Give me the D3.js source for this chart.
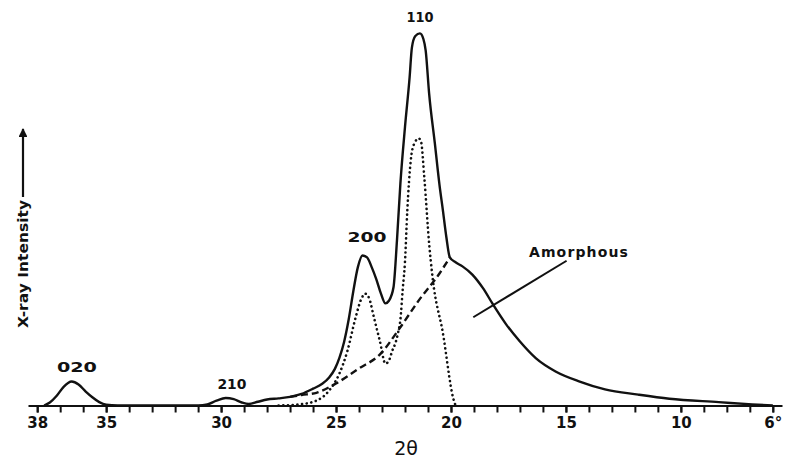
<!DOCTYPE html>
<html>
<head>
<meta charset="utf-8">
<script src="https://cdn.jsdelivr.net/npm/d3@7.9.0/dist/d3.min.js"></script>
<style>
  body { margin: 0; background: #fff; }
  svg { display: block; font-family: "DejaVu Sans", sans-serif; font-weight: bold; }
  .axis path, .axis line { stroke: #111; stroke-width: 2; }
</style>
</head>
<body>
<div id="chart"></div>
<script>
// total measured intensity (solid)
const totalTheta = [37.7, 37.45, 37.15, 36.85, 36.5, 36.2, 35.9, 35.6, 35.3, 35.0, 34.5, 31.0,
  30.6, 30.2, 29.8, 29.45, 29.1, 28.8, 28.4, 28.0, 27.5, 27.0, 26.5, 26.0, 25.6, 25.3, 25.05,
  24.85, 24.65, 24.45, 24.25, 24.05, 23.85, 23.65, 23.45, 23.25, 23.05, 22.85, 22.7, 22.5,
  22.35, 22.2, 22.0, 21.8, 21.7, 21.55, 21.35, 21.2, 21.1, 20.95, 20.7, 20.5, 20.35, 20.2,
  20.05, 19.8, 19.5, 19.07, 18.6, 18.2, 17.6, 17.0, 16.3, 15.45, 14.4, 13.3, 11.85, 10.5,
  8.35, 6.9, 6.0];
const totalI = [0, 0.8, 2.6, 5.0, 6.4, 5.6, 3.8, 2.2, 0.9, 0.2, 0, 0,
  0.3, 1.3, 2.0, 1.7, 0.8, 0.4, 1.0, 1.6, 1.9, 2.3, 3.1, 4.5, 5.8, 7.5, 9.8,
  12.8, 17.0, 23.0, 30.5, 37.0, 40.1, 39.6, 37.0, 33.8, 30.0, 27.3, 28.0, 31.6,
  44.1, 59.4, 74.5, 87.7, 95.7, 98.8, 99.5, 98.0, 94.9, 83.4, 70.0, 59.0, 52.1, 45.0,
  39.6, 38.3, 37.2, 35.0, 31.3, 27.3, 21.7, 17.1, 12.6, 9.1, 6.4, 4.3, 2.9, 1.8,
  0.9, 0.3, 0];

// crystalline peaks 200 and 110 (dotted)
const crystTheta = [27.5, 26.6, 25.85, 25.3, 24.85, 24.5, 24.15, 23.9, 23.73, 23.55, 23.35,
  23.1, 22.85, 22.7, 22.55, 22.4, 22.3, 22.2, 22.1, 22.0, 21.9, 21.75, 21.6, 21.4, 21.3,
  21.16, 20.95, 20.8, 20.35, 19.9, 19.8];
const crystI = [0, 0.3, 1.3, 4.0, 8.6, 14.7, 23.5, 28.5, 29.9, 28.5, 23.5,
  17.4, 11.2, 12.0, 14.7, 17.0, 19.5, 23.0, 31.0, 38.5, 52.1, 65.5, 70.0, 71.4, 70.5,
  61.0, 43.3, 34.2, 19.3, 1.9, 0];

// amorphous halo (dashed)
const amorphTheta = [27.0, 26.5, 25.85, 25.0, 24.0, 23.1, 22.25, 21.4, 20.5, 20.05];
const amorphI = [2.3, 2.8, 3.4, 5.9, 9.9, 13.6, 20.5, 28.1, 35.3, 39.6];

const tickLabels = [38, 35, 30, 25, 20, 15, 10, 6];
const minorTicks = d3.range(6, 39);

const peakNames = ['020', '210', '200', '110'];
const peakTheta = [36.27, 29.53, 23.65, 21.35];
const peakI = [9.0, 4.4, 43.7, 102.5];

const width = 786;
const height = 463;

const svg = d3.select('#chart')
  .append('svg')
  .attr('width', width)
  .attr('height', height)
  .attr('viewBox', [0, 0, width, height]);

svg.append('rect').attr('width', width).attr('height', height).attr('fill', '#fff');

const x = d3.scaleLinear().domain([38.4, 5.6]).range([28, 782]);
const y = d3.scaleLinear().domain([0, 100]).range([405.5, 31.5]);

const line = d3.line()
  .x((d) => x(d[0]))
  .y((d) => y(d[1]))
  .curve(d3.curveMonotoneX);

// x axis: minor ticks every degree, labels on the main ones
svg.append('g')
  .attr('class', 'axis')
  .attr('transform', `translate(0,${y(0)})`)
  .call(d3.axisBottom(x).tickValues(minorTicks).tickSize(7).tickSizeOuter(0).tickFormat(''));

const labelAxis = svg.append('g')
  .attr('class', 'axis')
  .attr('transform', `translate(0,${y(0)})`)
  .call(d3.axisBottom(x).tickValues(tickLabels).tickSize(7).tickPadding(5).tickSizeOuter(0)
    .tickFormat((d) => (d === 6 ? '6°' : d)));
labelAxis.select('.domain').remove();
labelAxis.attr('font-family', '"DejaVu Sans", sans-serif').attr('font-size', 15);
labelAxis.selectAll('text').attr('fill', '#111').attr('font-weight', 'bold');

svg.append('text')
  .attr('x', 406)
  .attr('y', 455)
  .attr('text-anchor', 'middle')
  .attr('font-size', 19)
  .attr('font-weight', 'normal')
  .attr('fill', '#111')
  .text('2θ');

// y label with arrow
svg.append('defs').append('marker')
  .attr('id', 'arrow')
  .attr('viewBox', '0 0 10 10')
  .attr('refX', 9)
  .attr('refY', 5)
  .attr('markerWidth', 4)
  .attr('markerHeight', 4)
  .attr('orient', 'auto')
  .append('path')
  .attr('d', 'M0,0L10,5L0,10z')
  .attr('fill', '#111');

svg.append('line')
  .attr('x1', 23).attr('y1', 197)
  .attr('x2', 23).attr('y2', 129)
  .attr('stroke', '#111')
  .attr('stroke-width', 2.2)
  .attr('marker-end', 'url(#arrow)');

svg.append('text')
  .attr('transform', 'translate(28,328) rotate(-90)')
  .attr('font-size', 14)
  .attr('fill', '#111')
  .attr('textLength', 128)
  .attr('lengthAdjust', 'spacingAndGlyphs')
  .text('X-ray Intensity');

// curves
svg.append('path')
  .datum(d3.zip(amorphTheta, amorphI))
  .attr('d', line)
  .attr('fill', 'none')
  .attr('stroke', '#111')
  .attr('stroke-width', 2.4)
  .attr('stroke-dasharray', '7 4');

svg.append('path')
  .datum(d3.zip(crystTheta, crystI))
  .attr('d', line)
  .attr('fill', 'none')
  .attr('stroke', '#111')
  .attr('stroke-width', 2.6)
  .attr('stroke-linecap', 'round')
  .attr('stroke-dasharray', '0.1 4.6');

svg.append('path')
  .datum(d3.zip(totalTheta, totalI))
  .attr('d', line)
  .attr('fill', 'none')
  .attr('stroke', '#111')
  .attr('stroke-width', 2.4);

// peak labels
const peakWidths = { '020': 40, '210': 29, '200': 39, '110': 27 };
svg.append('g')
  .selectAll('text')
  .data(d3.zip(peakNames, peakTheta, peakI))
  .join('text')
  .attr('x', (d) => x(d[1]) - peakWidths[d[0]] / 2)
  .attr('y', (d) => y(d[2]))
  .attr('font-size', 14)
  .attr('fill', '#111')
  .attr('textLength', (d) => peakWidths[d[0]])
  .attr('lengthAdjust', 'spacingAndGlyphs')
  .text((d) => d[0]);

// amorphous annotation
svg.append('line')
  .attr('x1', x(19.03)).attr('y1', y(23.6))
  .attr('x2', x(14.97)).attr('y2', y(38.7))
  .attr('stroke', '#111')
  .attr('stroke-width', 2);

svg.append('text')
  .attr('x', x(16.61))
  .attr('y', y(39.7))
  .attr('font-size', 14)
  .attr('fill', '#111')
  .attr('textLength', 99)
  .attr('lengthAdjust', 'spacing')
  .text('Amorphous');
</script>
</body>
</html>
